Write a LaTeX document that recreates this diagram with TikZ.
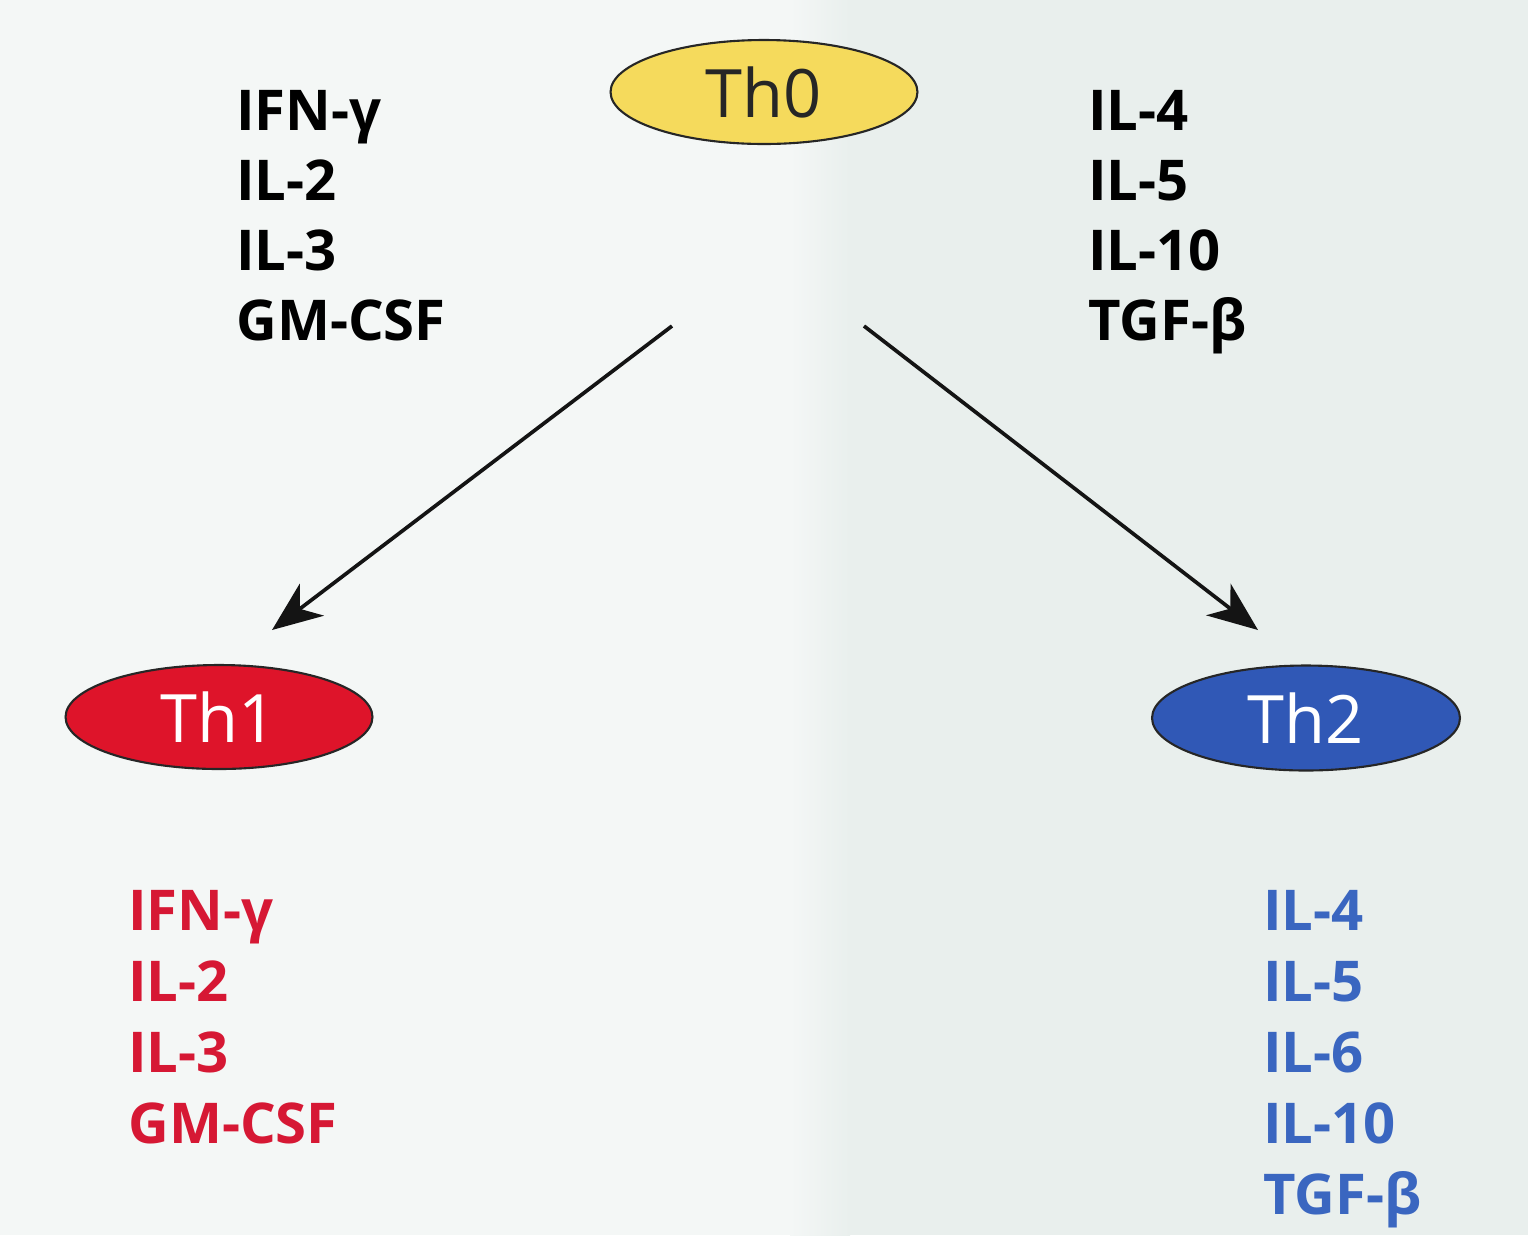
\documentclass[tikz,border=0pt]{standalone}
\usepackage{fontspec}
\setmainfont{Open Sans}
\usetikzlibrary{shapes.geometric,arrows.meta}
\definecolor{bgl}{RGB}{244,247,246}
\definecolor{bgr}{RGB}{233,239,237}
\definecolor{yel}{RGB}{245,218,92}
\definecolor{redc}{RGB}{222,20,42}
\definecolor{bluec}{RGB}{48,88,182}
\definecolor{redt}{RGB}{214,24,52}
\definecolor{bluet}{RGB}{58,102,192}
\tikzset{
  cell/.style={ellipse, draw=black!85, line width=1.2pt, minimum width=6.14cm, minimum height=2.08cm, inner sep=0pt, font=\fontsize{38}{46}\selectfont},
  lab/.style={anchor=base west, inner sep=0pt, font=\bfseries\fontsize{32}{40}\selectfont},
  conn/.style={line width=2.1pt, black!92, -{Stealth[length=1.0cm, width=0.8cm, inset=0.3cm]}}
}
\begin{document}
\begin{tikzpicture}[x=0.02cm,y=-0.02cm]
\fill[bgl] (0,0) rectangle (1528,1235);
\shade[left color=bgl, right color=bgr] (790,0) rectangle (850,1235);
\fill[bgr] (850,0) rectangle (1528,1235);
\useasboundingbox (0,0) rectangle (1528,1235);

\node[cell, fill=yel, text=black!85] (th0) at (764,92) {Th0};
\node[cell, fill=redc, text=white] (th1) at (219,717) {Th1};
\node[cell, fill=bluec, text=white, minimum width=6.16cm, minimum height=2.1cm] (th2) at (1306,718) {Th2};

\node[lab] (l1) at (236,130) {IFN-γ};
\node[lab] (l2) at (236,200) {IL-2};
\node[lab] (l3) at (236,270) {IL-3};
\node[lab] (l4) at (236,340) {GM-CSF};

\node[lab] (r1) at (1088,130) {IL-4};
\node[lab] (r2) at (1088,200) {IL-5};
\node[lab] (r3) at (1088,270) {IL-10};
\node[lab] (r4) at (1088,340) {TGF-β};

\node[lab, text=redt] (a1) at (128,930) {IFN-γ};
\node[lab, text=redt] (a2) at (128,1001) {IL-2};
\node[lab, text=redt] (a3) at (128,1072) {IL-3};
\node[lab, text=redt] (a4) at (128,1143) {GM-CSF};

\node[lab, text=bluet] (b1) at (1263,930) {IL-4};
\node[lab, text=bluet] (b2) at (1263,1001) {IL-5};
\node[lab, text=bluet] (b3) at (1263,1072) {IL-6};
\node[lab, text=bluet] (b4) at (1263,1143) {IL-10};
\node[lab, text=bluet] (b5) at (1263,1214) {TGF-β};

\coordinate (s1) at (672,326);
\coordinate (e1) at (272,630);
\coordinate (s2) at (864,326);
\coordinate (e2) at (1258,630);
\draw[conn] (s1) -- (e1);
\draw[conn] (s2) -- (e2);
\end{tikzpicture}
\end{document}
